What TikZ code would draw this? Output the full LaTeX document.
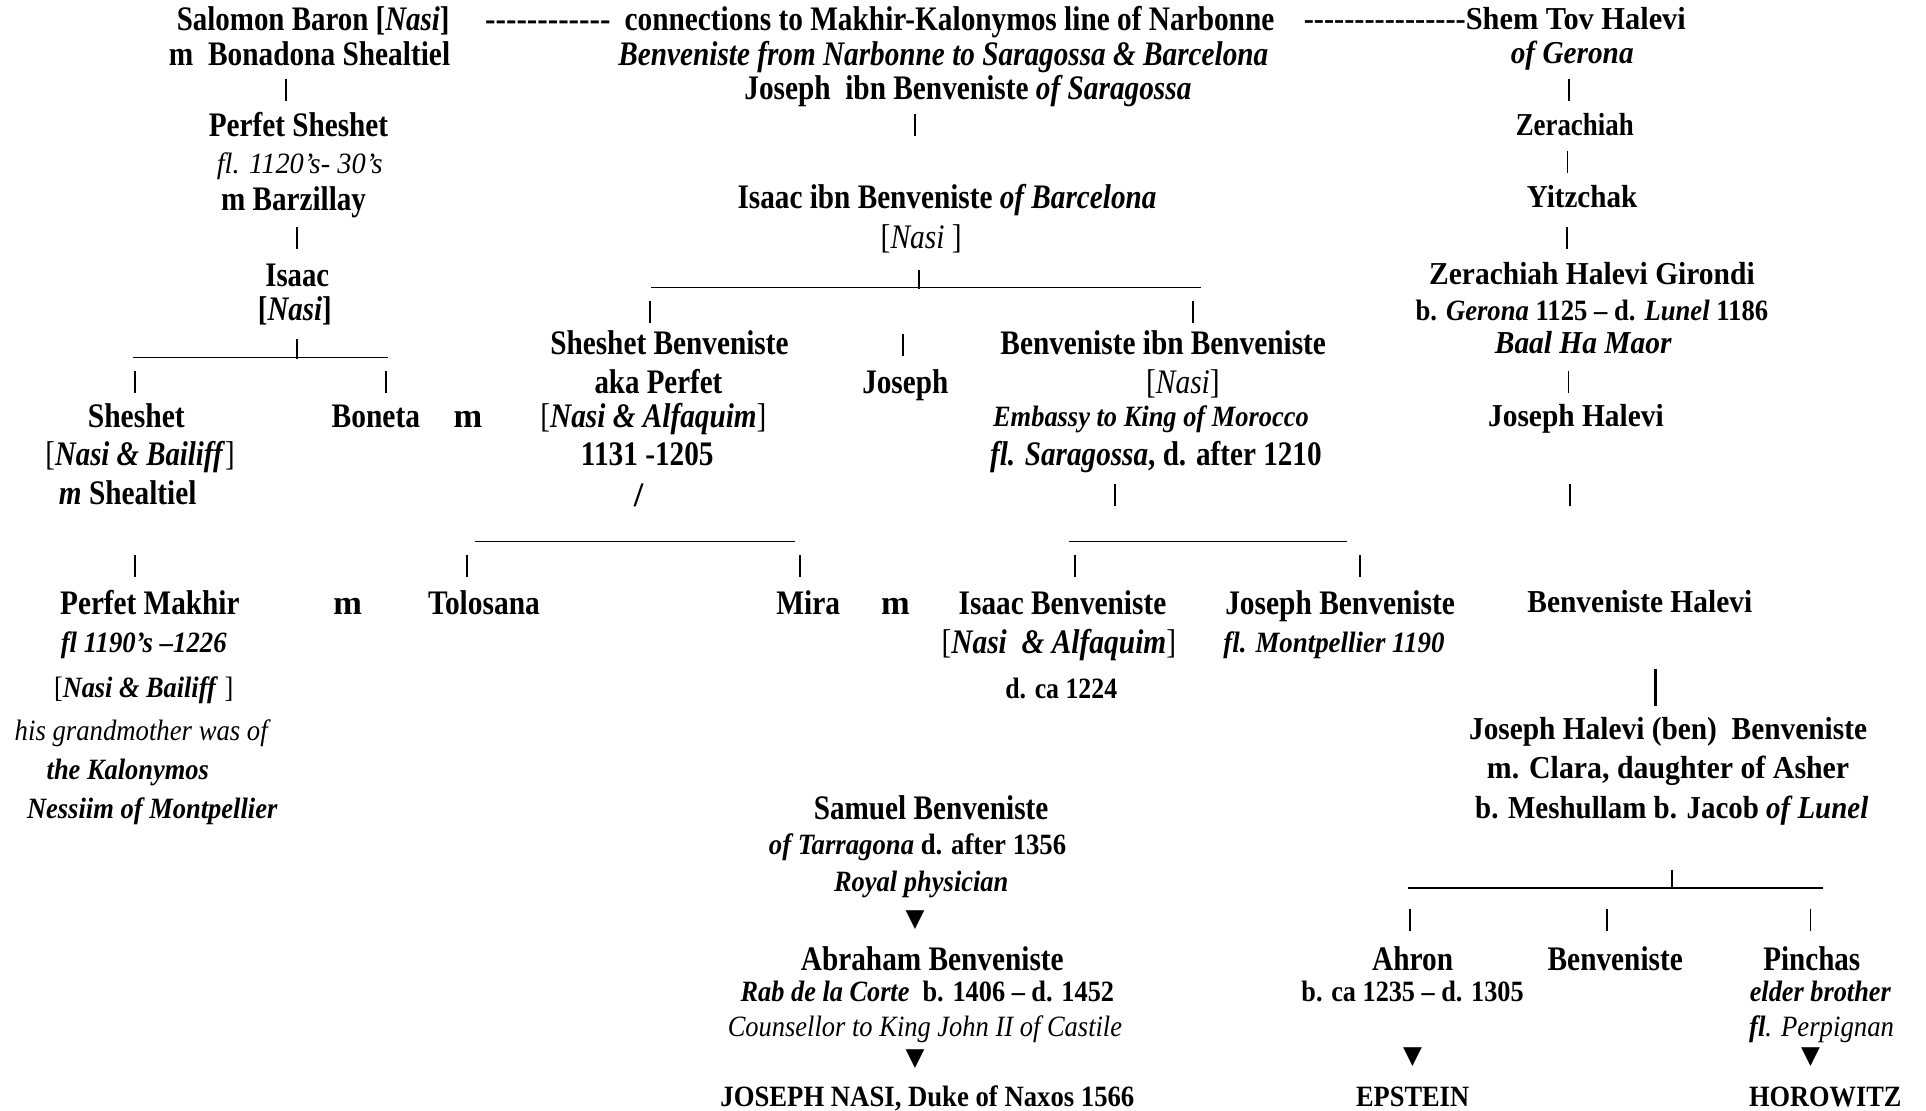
\documentclass[tikz,border=0pt]{standalone}
\usepackage{fontspec}
\setmainfont{Liberation Serif}
\newfontfamily\symfont{DejaVu Sans}
\usepackage{graphicx}
\newcommand{\fw}[2]{\resizebox{#1pt}{\height}{#2}}
\newcommand{\hyph}[1]{\foreach \i in {1,...,#1}{-}}
\tikzset{
  nm/.style={font=\fontsize{28}{30}\selectfont\bfseries, anchor=base, yshift=-9pt, inner sep=0pt},
  rt/.style={font=\fontsize{26}{28}\selectfont\bfseries, anchor=base, yshift=-8pt, inner sep=0pt},
  sm/.style={font=\fontsize{24}{26}\selectfont\bfseries, anchor=base, yshift=-8pt, inner sep=0pt},
  lt/.style={font=\fontsize{24}{26}\selectfont\mdseries\itshape, anchor=base, yshift=-8pt, inner sep=0pt},
  tri/.style={font=\symfont\fontsize{20}{20}\selectfont, inner sep=0pt},
  bar/.style={line width=1.5pt},
  thinbar/.style={line width=0.9pt},
  rule/.style={line width=1.3pt}
}
\begin{document}
\begin{tikzpicture}[x=1pt,y=-1pt]
  \fill[white] (0,0) rectangle (1568,904);
  \useasboundingbox (0,0) rectangle (1568,904);
  % left line
  \node[nm] (salomon) at (255,16) {\fw{222}{Salomon Baron [\textit{Nasi}]}};
  \node[nm] (bonadona) at (252,44) {\fw{229}{m\ \ Bonadona Shealtiel}};
  \node[nm] (perfet) at (243,102) {\fw{146}{Perfet Sheshet}};
  \node[lt] (perfetfl) at (244,133) {\fw{135}{fl. 1120’s- 30’s}};
  \node[nm] (barzillay) at (239,162) {\fw{118}{m Barzillay}};
  \node[nm] (isaac) at (242,224) {\fw{52}{Isaac}};
  \node[nm] (isaacnasi) at (240,252) {\fw{60}{[\textit{Nasi}]}};
  \node[nm] (sheshet) at (111,339) {\fw{79}{Sheshet}};
  \node[nm] (sheshetnasi) at (114,370) {\fw{154}{\textmd{[}\textit{Nasi \& Bailiff}\textmd{]}}};
  \node[nm] (shealtiel) at (104,402) {\fw{112}{\textit{m} Shealtiel}};
  \node[nm] (boneta) at (306,339) {\fw{72}{Boneta}};
  \node[nm] (ma) at (381,339) {m};
  \node[nm] (makhir) at (122,491) {\fw{146}{Perfet Makhir}};
  \node[sm] (makhirfl) at (117,523) {\fw{135}{\textit{fl 1190’s –1226}}};
  \node[sm] (makhirnasi) at (117,560) {\fw{146}{\textmd{[}\textit{Nasi \& Bailiff} \textmd{]}}};
  \node[lt] (grandmother) at (115,595) {\fw{206}{his grandmother was of}};
  \node[sm] (kalonymos) at (104,627) {\fw{132}{\textit{the Kalonymos}}};
  \node[sm] (nessiim) at (124,658) {\fw{204}{\textit{Nessiim of Montpellier}}};
  \node[nm] (mb) at (283,491) {m};
  \node[nm] (tolosana) at (394,491) {\fw{91}{Tolosana}};
  % middle line
  \node[nm] (dashl) at (446,16) {\fw{102}{\hyph{12}}};
  \node[nm] (conn) at (773,16) {\fw{529}{connections to Makhir-Kalonymos line of Narbonne}};
  \node[rt] (shemtov) at (1217,16) {\fw{311}{\hyph{16}Shem Tov Halevi}};
  \node[nm] (narbonne) at (768,44) {\fw{529}{\textit{Benveniste from Narbonne to Saragossa \& Barcelona}}};
  \node[nm] (josephs) at (788,72) {\fw{364}{Joseph\ \ ibn Benveniste \textit{of Saragossa}}};
  \node[nm] (isaacb) at (771,161) {\fw{341}{Isaac ibn Benveniste \textit{of Barcelona}}};
  \node[nm] (isaacbnasi) at (750,193) {\fw{66}{\textmd{[\textit{Nasi} ]}}};
  \node[nm] (sheshetb) at (545,280) {\fw{194}{Sheshet Benveniste}};
  \node[nm] (benibn) at (947,280) {\fw{265}{Benveniste ibn Benveniste}};
  \node[nm] (aka) at (536,311) {\fw{104}{aka Perfet}};
  \node[nm] (joseph) at (737,311) {\fw{70}{Joseph}};
  \node[nm] (benibnnasi) at (963,311) {\fw{60}{\textmd{[\textit{Nasi}]}}};
  \node[nm] (sheshetbnasi) at (532,339) {\fw{184}{\textmd{[}\textit{Nasi \& Alfaquim}\textmd{]}}};
  \node[sm] (embassy) at (937,339) {\fw{257}{\textit{Embassy to King of Morocco}}};
  \node[nm] (sheshetdates) at (527,370) {\fw{108}{1131 -1205}};
  \node[nm] (saragossa) at (941,370) {\fw{270}{\textit{fl. Saragossa}, d. after 1210}};
  \node[nm] (slash) at (520,403) {/};
  \node[nm] (mira) at (658,491) {\fw{52}{Mira}};
  \node[nm] (mc) at (729,491) {m};
  \node[nm] (isaacben) at (865,491) {\fw{169}{Isaac Benveniste}};
  \node[nm] (josephben) at (1091,491) {\fw{187}{Joseph Benveniste}};
  \node[nm] (isaacbennasi) at (862,523) {\fw{191}{\textmd{[}\textit{Nasi\ \ \& Alfaquim}\textmd{]}}};
  \node[sm] (montpellier) at (1086,523) {\fw{180}{\textit{fl. Montpellier 1190}}};
  \node[sm] (isaacbendates) at (864,561) {\fw{91}{d. ca 1224}};
  \node[nm] (samuel) at (758,658) {\fw{191}{Samuel Benveniste}};
  \node[sm] (tarragona) at (747,688) {\fw{242}{\textit{of Tarragona} d. after 1356}};
  \node[sm] (royal) at (750,718) {\fw{142}{\textit{Royal physician}}};
  \node[nm] (abraham) at (759,781) {\fw{214}{Abraham Benveniste}};
  \node[sm] (corte) at (755,807) {\fw{304}{\textit{Rab de la Corte}\ \ b. 1406 – d. 1452}};
  \node[lt] (castile) at (753,836) {\fw{321}{Counsellor to King John II of Castile}};
  \node[sm] (josephnasi) at (755,893) {\fw{337}{JOSEPH NASI, Duke of Naxos 1566}};
  % right line
  \node[rt] (gerona) at (1280,44) {\fw{100}{\textit{of Gerona}}};
  \node[rt] (zerachiah) at (1282,102) {\fw{96}{Zerachiah}};
  \node[rt] (yitzchak) at (1288,161) {\fw{90}{Yitzchak}};
  \node[rt] (girondi) at (1296,224) {\fw{265}{Zerachiah Halevi Girondi}};
  \node[sm] (girondidates) at (1296,253) {\fw{287}{b. \textit{Gerona} 1125 – d. \textit{Lunel} 1186}};
  \node[rt] (maor) at (1289,280) {\fw{144}{\textit{Baal Ha Maor}}};
  \node[rt] (josephh) at (1283,339) {\fw{143}{Joseph Halevi}};
  \node[rt] (benh) at (1335,491) {\fw{183}{Benveniste Halevi}};
  \node[rt] (josephhb) at (1358,594) {\fw{324}{Joseph Halevi (ben)\ \ Benveniste}};
  \node[rt] (clara) at (1358,626) {\fw{295}{m. Clara, daughter of Asher}};
  \node[rt] (meshullam) at (1361,658) {\fw{320}{b. Meshullam b. Jacob \textit{of Lunel}}};
  \node[nm] (ahron) at (1150,781) {\fw{66}{Ahron}};
  \node[nm] (benv) at (1315,781) {\fw{110}{Benveniste}};
  \node[nm] (pinchas) at (1475,781) {\fw{79}{Pinchas}};
  \node[sm] (ahrondates) at (1150,807) {\fw{181}{b. ca 1235 – d. 1305}};
  \node[sm] (elder) at (1482,807) {\fw{115}{\textit{elder brother}}};
  \node[lt] (perpignan) at (1483,836) {\fw{118}{\textbf{fl}. Perpignan}};
  \node[sm] (epstein) at (1150,893) {\fw{92}{EPSTEIN}};
  \node[sm] (horowitz) at (1486,893) {\fw{124}{HOROWITZ}};
  % descent marks
  \node[tri] (tria) at (745,749) {▼};
  \node[tri] (trib) at (745,862) {▼};
  \node[tri] (tric) at (1150,861) {▼};
  \node[tri] (trid) at (1474,861) {▼};
  % bars
  \foreach \x/\y in {233/73,242/194,110/311,314/311,110/461,380/461,745/102,529/254,971/254,735/281,
    908/403,651/461,875/461,1107/461,1277/73,1276/194,1278/403,1148/749,1308/749,1474/749}
    \draw[bar] (\x,\y-9) -- (\x,\y+9);
  \draw[thinbar] (1276,123) -- (1276,141);
  \draw[thinbar] (1277,302) -- (1277,320);
  \draw[bar,line width=2.2pt] (1348,545) -- (1348,575);
  % sibling rules
  \draw[rule] (108,291) -- (316,291);
  \draw[bar] (242,276) -- (242,292);
  \draw[rule] (530,234) -- (978,234);
  \draw[bar] (748,220) -- (748,235);
  \draw[rule] (387,441) -- (647,441);
  \draw[rule] (870,441) -- (1097,441);
  \draw[rule] (1146,723) -- (1484,723);
  \draw[bar] (1361,708) -- (1361,724);
\end{tikzpicture}
\end{document}
